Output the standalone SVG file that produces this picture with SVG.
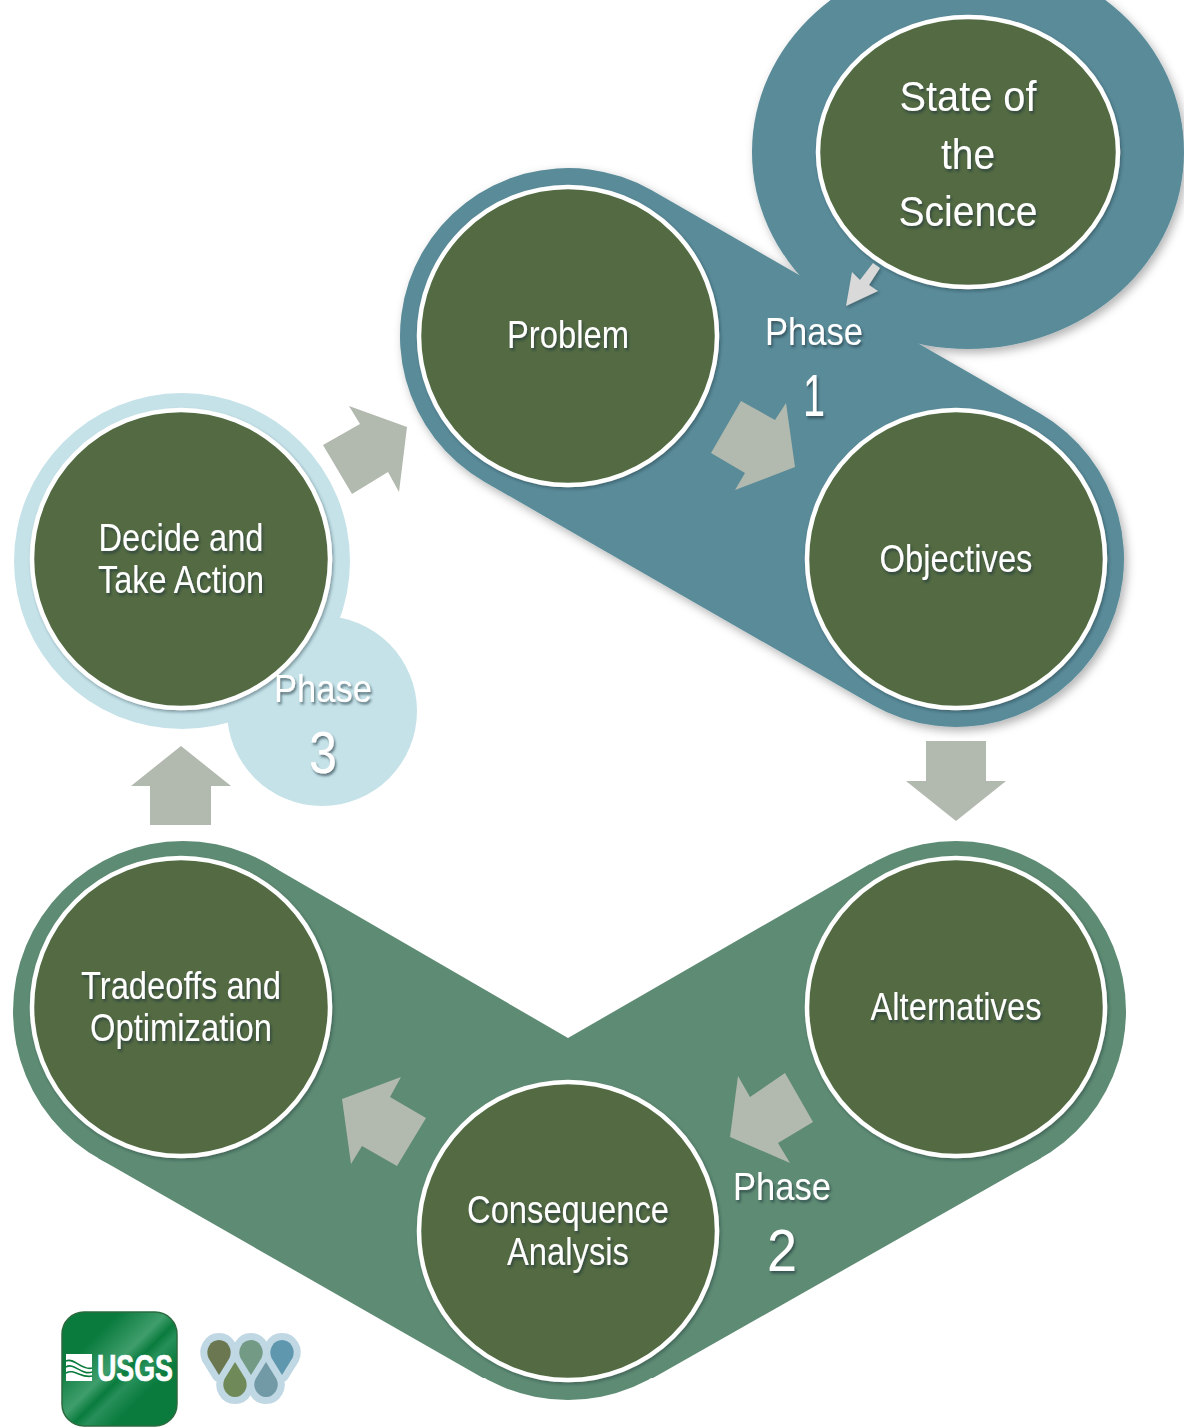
<svg xmlns="http://www.w3.org/2000/svg" width="1184" height="1427" viewBox="0 0 1184 1427">
<style>
.node{fill:#526b43;stroke:#fff;stroke-width:4.5;filter:url(#ns)}
.t{font-family:"Liberation Sans",Arial,sans-serif;fill:#fff;text-anchor:middle;font-size:39px;filter:url(#ts)}
.big{font-size:43px}
.num{font-size:60px}
.ar{fill:#b2b9ae}
.halo{fill:#c0d8e4;stroke:#c0d8e4;stroke-width:14;stroke-linejoin:round}
.p2{fill:#5e8b73}
</style>
<defs>
<filter id="ns" filterUnits="userSpaceOnUse" x="0" y="0" width="1184" height="1427"><feDropShadow dx="1.5" dy="2" stdDeviation="1.8" flood-color="#1c3038" flood-opacity=".4"/></filter>
<filter id="ts" filterUnits="userSpaceOnUse" x="0" y="0" width="1184" height="1427"><feDropShadow dx="1.5" dy="2.5" stdDeviation="1.2" flood-color="#20343c" flood-opacity=".6"/></filter>
<filter id="bs" filterUnits="userSpaceOnUse" x="0" y="0" width="1184" height="1427"><feDropShadow dx="3" dy="4" stdDeviation="5" flood-color="#000" flood-opacity=".3"/></filter>
<linearGradient id="usgs" x1="0" y1="0" x2="1" y2="1"><stop offset="0" stop-color="#0a7b3d"/><stop offset=".25" stop-color="#0a7b3d"/><stop offset=".46" stop-color="#3f9e6c"/><stop offset=".54" stop-color="#0a7b3d"/><stop offset=".6" stop-color="#27905a"/><stop offset=".72" stop-color="#0a7b3d"/><stop offset="1" stop-color="#0a7b3d"/></linearGradient>
<path id="drop" d="M0,34 L-10.5,17 A11.7,12.5 0 1 1 10.5,17 Z"/>
<path id="tear" d="M0,0 L10.5,17 A11.7,12.5 0 1 1 -10.5,17 Z"/>
</defs>
<g id="phase1-band" filter="url(#bs)">
<ellipse cx="968" cy="152" rx="216" ry="197" fill="#5a8b99"/>
<line x1="568" y1="336" x2="956" y2="559" stroke="#5a8b99" stroke-width="336" stroke-linecap="round"/>
</g>
<g id="phase2-band"><circle class="p2" cx="183" cy="1011" r="170"/><circle class="p2" cx="956" cy="1011" r="170"/><circle class="p2" cx="568" cy="1230" r="170"/><polygon class="p2" points="268,864 568,1038 870,864 1041,1158 653,1378 483,1378 98,1158"/></g>
<g id="phase3-band"><circle cx="182" cy="561" r="168" fill="#c5e2e9"/><circle cx="322" cy="711" r="95" fill="#c5e2e9"/></g>
<g id="connectors">
<polygon class="ar" points="741,401 775,420 786,403 795,467 735,490 745,473 711,453"/>
<polygon class="ar" points="926,741 986,741 986,781 1006,781 956,821 906,781 926,781"/>
<polygon class="ar" points="785,1073 813,1122 778,1143 790,1163 730,1137 738,1076 750,1097"/>
<polygon class="ar" points="426,1118 397,1166 362,1146 351,1164 342,1099 401,1077 390,1097"/>
<polygon class="ar" points="150,825 211,825 211,786 231,786 181,746 131,786 150,786"/>
<polygon class="ar" points="323,445 360,424 349,406 407,427 399,492 388,472 352,494"/>
<polygon points="873,263 880,268 869,285 878,291 846,306 852,272 860,280" fill="#d9d9d9" filter="url(#ns)"/>
</g>
<g id="state"><ellipse class="node" cx="968" cy="152" rx="150" ry="135"/>
<text class="t big" x="968" y="111" textLength="137" lengthAdjust="spacingAndGlyphs">State of</text>
<text class="t big" x="968" y="169" textLength="54" lengthAdjust="spacingAndGlyphs">the</text>
<text class="t big" x="968" y="226" textLength="139" lengthAdjust="spacingAndGlyphs">Science</text></g>
<g id="problem"><circle class="node" cx="568" cy="336" r="149"/><text class="t" x="568" y="348" textLength="122" lengthAdjust="spacingAndGlyphs">Problem</text></g>
<g id="objectives"><circle class="node" cx="956" cy="559" r="149"/><text class="t" x="956" y="572" textLength="153" lengthAdjust="spacingAndGlyphs">Objectives</text></g>
<g id="alternatives"><circle class="node" cx="956" cy="1007" r="149"/><text class="t" x="956" y="1020" textLength="171" lengthAdjust="spacingAndGlyphs">Alternatives</text></g>
<g id="consequence"><circle class="node" cx="568" cy="1231" r="149"/>
<text class="t" x="568" y="1223" textLength="202" lengthAdjust="spacingAndGlyphs">Consequence</text>
<text class="t" x="568" y="1265" textLength="122" lengthAdjust="spacingAndGlyphs">Analysis</text></g>
<g id="tradeoffs"><circle class="node" cx="181" cy="1007" r="149"/>
<text class="t" x="181" y="999" textLength="200" lengthAdjust="spacingAndGlyphs">Tradeoffs and</text>
<text class="t" x="181" y="1041" textLength="182" lengthAdjust="spacingAndGlyphs">Optimization</text></g>
<g id="decide"><circle class="node" cx="181" cy="559" r="149"/>
<text class="t" x="181" y="551" textLength="165" lengthAdjust="spacingAndGlyphs">Decide and</text>
<text class="t" x="181" y="593" textLength="166" lengthAdjust="spacingAndGlyphs">Take Action</text></g>
<g id="phase-labels">
<text class="t" x="814" y="345" textLength="98" lengthAdjust="spacingAndGlyphs">Phase</text>
<text class="t num" x="814" y="416" textLength="22" lengthAdjust="spacingAndGlyphs">1</text>
<text class="t" x="782" y="1200" textLength="98" lengthAdjust="spacingAndGlyphs">Phase</text>
<text class="t num" x="782" y="1271" textLength="30" lengthAdjust="spacingAndGlyphs">2</text>
<text class="t" x="323" y="702" textLength="98" lengthAdjust="spacingAndGlyphs">Phase</text>
<text class="t num" x="323" y="773" textLength="28" lengthAdjust="spacingAndGlyphs">3</text>
</g>
<g id="usgs-logo">
<rect x="62" y="1312" width="115" height="114" rx="22" fill="url(#usgs)" stroke="#2b6b3f" stroke-width="1.5"/>
<polygon points="66,1354 92,1354 92,1381 66,1381" fill="#fff"/>
<path d="M66,1361 C74,1357 82,1371 92,1368 M66,1367 C74,1362 82,1376 92,1372 M66,1373 C74,1368 82,1379 92,1376" fill="none" stroke="#0a7b3d" stroke-width="1.6"/>
<text x="135" y="1381" text-anchor="middle" font-family="'Liberation Sans',Arial,sans-serif" font-weight="700" font-size="37" fill="#fff" stroke="#fff" stroke-width=".7" textLength="76" lengthAdjust="spacingAndGlyphs">USGS</text>
</g>
<g id="water-logo">
<g class="halo"><use href="#drop" x="219" y="1341"/><use href="#drop" x="251" y="1341"/><use href="#drop" x="282" y="1341"/><use href="#tear" x="235" y="1362"/><use href="#tear" x="266" y="1362"/><polygon points="222,1356 280,1356 266,1388 235,1388"/></g>
<use href="#drop" x="219" y="1341" fill="#6a7750"/>
<use href="#drop" x="251" y="1341" fill="#729a85"/>
<use href="#drop" x="282" y="1341" fill="#5f97ae"/>
<use href="#tear" x="235" y="1362" fill="#6f8a58"/>
<use href="#tear" x="266" y="1362" fill="#7299a6"/>
</g>
</svg>
